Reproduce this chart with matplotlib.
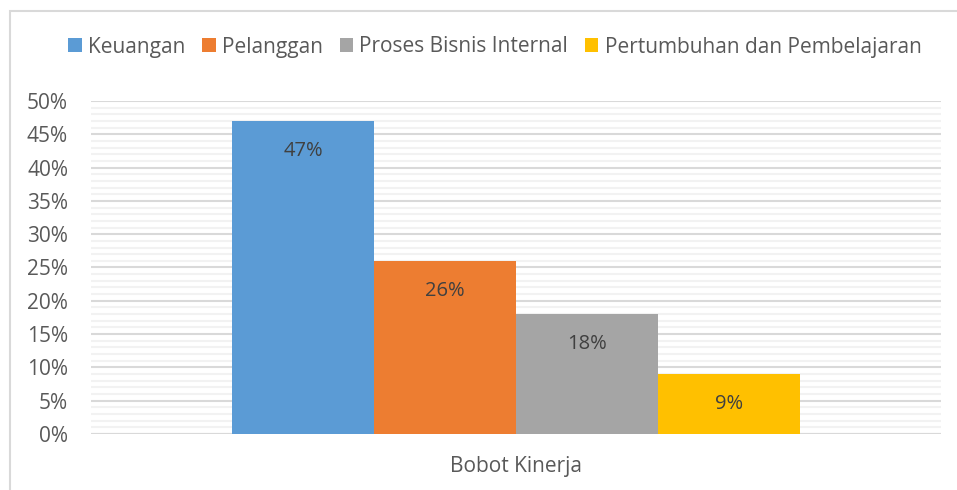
import matplotlib
matplotlib.use("Agg")
import matplotlib.pyplot as plt
from matplotlib.patches import Rectangle, Patch
from matplotlib.ticker import MultipleLocator, PercentFormatter

categories = ["Bobot Kinerja"]
series = ["Keuangan", "Pelanggan", "Proses Bisnis Internal", "Pertumbuhan dan Pembelajaran"]
values = [0.47, 0.26, 0.18, 0.09]
colors = ["#5B9BD5", "#ED7D31", "#A5A5A5", "#FFC000"]
labels = ["47%", "26%", "18%", "9%"]

plt.rcParams['font.family'] = ['Open Sans', 'DejaVu Sans']
txt = "#595959"

fig = plt.figure(figsize=(9.57, 4.90), dpi=100)
fig.patches.append(Rectangle((10/957, -0.05), 1.0, 1 - 11/490 + 0.05, transform=fig.transFigure,
                             fill=False, edgecolor="#D9D9D9", linewidth=1.5))
ax = fig.add_axes([91/957, 1 - 434/490, 850/957, 333/490])

group = 0.668
w = group / len(series)
for i, (s, v, c, lab) in enumerate(zip(series, values, colors, labels)):
    x = -group/2 + w*(i + 0.5)
    ax.bar(x, v, width=w, color=c, label=s, zorder=3)
    ax.annotate(lab, (x, v), xytext=(0, -30), textcoords="offset pixels",
                ha="center", va="center", fontsize=14.5, color="#404040", zorder=4)

ax.set_xlim(-0.5, 0.5)
ax.set_ylim(0, 0.5)
ax.yaxis.set_major_locator(MultipleLocator(0.05))
ax.yaxis.set_minor_locator(MultipleLocator(0.01))
ax.yaxis.set_major_formatter(PercentFormatter(1.0, decimals=0))
ax.grid(which="major", axis="y", color="#D9D9D9", linewidth=1.5, zorder=0)
ax.grid(which="minor", axis="y", color="#F2F2F2", linewidth=1.5, zorder=0)
ax.set_xticks([0])
ax.set_xticklabels(categories)
ax.tick_params(axis="both", which="both", length=0, labelsize=15, labelcolor=txt)
ax.tick_params(axis="y", pad=16.5)
ax.tick_params(axis="x", pad=16)
for sp in ax.spines.values():
    sp.set_visible(False)
ax.axhline(0, color="#D9D9D9", linewidth=1.5, zorder=2)

handles = [Patch(facecolor=c, edgecolor="none") for c in colors]
fig.legend(handles, series, loc="center", bbox_to_anchor=(495/957, 1 - 47/490), ncol=4,
           frameon=False, fontsize=15, labelcolor=txt, handlelength=0.65, handleheight=0.65,
           handletextpad=0.3, columnspacing=0.8)

fig.savefig("out.png", dpi=100)
